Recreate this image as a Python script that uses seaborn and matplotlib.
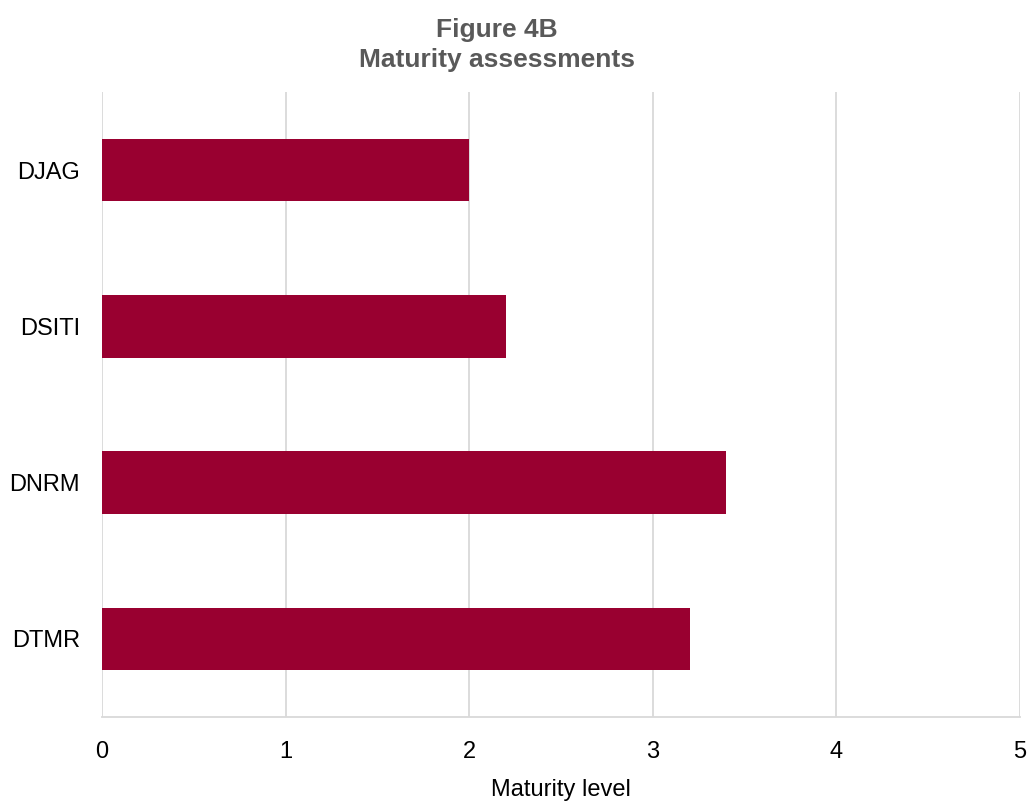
import matplotlib
matplotlib.use("Agg")
import matplotlib.pyplot as plt
import seaborn as sns
import pandas as pd

agencies = ["DJAG", "DSITI", "DNRM", "DTMR"]
maturity = [2.0, 2.2, 3.4, 3.2]
x_ticks = [0, 1, 2, 3, 4, 5]

sns.set_theme(style="white")
plt.rcParams["font.family"] = ["Liberation Sans", "DejaVu Sans"]

df = pd.DataFrame({"agency": agencies, "level": maturity})

fig = plt.figure(figsize=(10.29, 8.01), dpi=100)
ax = fig.add_axes([0.0991, 0.1049, 0.8922, 0.7802])

sns.barplot(data=df, x="level", y="agency", order=agencies, color="#990030",
            width=0.4, saturation=1, ax=ax, zorder=3, linewidth=0)

ax.set_xlim(0, 5)
ax.set_xticks(x_ticks)
ax.set_xticklabels([str(t) for t in x_ticks])
ax.xaxis.grid(True, color="#d9d9d9", linewidth=1.3, zorder=0)
ax.yaxis.grid(False)
for side in ["top", "right", "left"]:
    ax.spines[side].set_visible(False)
ax.spines["bottom"].set_color("#d9d9d9")
ax.spines["bottom"].set_linewidth(1.3)
ax.tick_params(axis="both", length=0, labelsize=17, colors="black")
ax.tick_params(axis="x", pad=17)
ax.tick_params(axis="y", pad=16)

ax.set_ylabel("")
ax.set_xlabel("Maturity level", fontsize=17, color="black", labelpad=12)

fig.text(0.483, 0.977, "Figure 4B\nMaturity assessments", ha="center", va="top",
         fontsize=19, fontweight="bold", color="#595959", linespacing=1.3)

fig.savefig("out.png", dpi=100)
